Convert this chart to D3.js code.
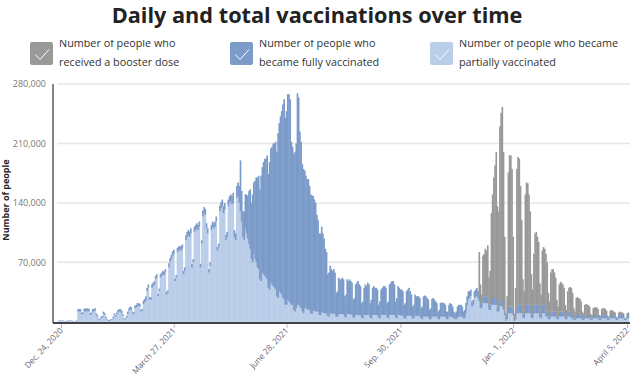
<!DOCTYPE html>
<html>
<head>
<meta charset="utf-8">
<script src="https://cdn.jsdelivr.net/npm/d3@7"></script>
<style>
  body { margin: 0; background: #fff; }
  svg { display: block; }
</style>
</head>
<body>
<svg id="chart" width="634" height="375"></svg>
<script>
// daily values in thousands, one row per week, first day Thu Dec. 17, 2020
const startDate = new Date(2020, 11, 17);

const partial = [
  0,0,0,0,1,1,1,  1,1,0.5,0.5,1,1,1,  1,1,0.5,0.5,1,1,12,
  12,12,9,9,12,13,12,  13,12,8,9,12,12,13,  8,6,3,2,4,5,9,
  8,4,2,1,1,2,2,  4,8,6,9,11,12,12,  10,7,3,3,5,9,13,
  15,14,10,9,16,17,18,  19,18,12,13,21,23,25,  36,40,26,26,40,42,44,
  50,52,30,36,52,54,56,  55,58,32,34,64,70,74,  78,80,48,52,82,84,84,
  84,86,56,60,96,100,102,  100,104,64,70,106,108,110,  108,112,64,92,124,128,126,
  110,104,58,66,108,112,110,  112,118,84,88,130,134,136,  128,132,96,100,136,140,142,
  138,140,100,96,146,148,140,  130,118,100,96,110,104,98,  92,86,74,70,80,74,70,
  64,62,50,48,58,56,54,  52,50,40,38,46,44,42,  40,38,30,28,36,34,32,
  28,26,20,20,26,24,22,  20,20,14,12,16,20,20,  18,16,12,10,16,16,15,
  14,14,10,9,13,13,12,  12,12,8,8,11,11,10,  10,10,7,6,10,10,9,
  10,9,6,6,9,9,9,  9,9,6,5,9,9,9,  9,8,5,5,8,8,8,
  8,8,5,4,8,8,8,  8,8,5,4,8,8,8,  8,8,5,4,8,8,8,
  8,8,5,4,8,8,8,  8,8,5,4,8,8,8,  7,7,4,4,7,7,7,
  7,7,4,4,7,7,7,  7,6,4,3,6,6,6,  6,6,3,3,6,6,6,
  6,6,3,3,6,6,6,  6,6,3,3,6,6,6,  5,4,3,3,5,6,6,
  6,6,4,4,10,20,26,  28,30,18,20,28,30,30,  28,24,16,16,22,22,22,
  22,22,14,14,20,20,20,  20,20,12,12,18,18,18,  14,8,1,3,10,10,10,
  10,8,1,3,10,10,10,  10,10,5,4,10,10,10,  10,10,5,4,10,10,10,
  10,10,5,4,10,10,10,  6,6,3,3,6,6,6,  6,6,3,3,6,6,6,
  6,6,3,3,6,6,6,  4,4,2,2,4,4,4,  4,4,2,2,4,4,4,
  4,4,2,2,4,4,4,  4,4,2,2,4,4,4,  4,4,2,2,4,4,4,
  4,4,2,2,4,4,4,  4,4,2,2,4,4
];

const fully = [
  0,0,0,0,0.5,0.5,0.5,  0.5,0.5,0.3,0.3,0.5,0.5,0.5,  0.5,0.5,0.3,0.3,0.5,0.5,3,
  3,3,2,2,3,3,3,  3,3,2,2,3,3,3,  2,2,1,1,2,2,3,
  2,2,1,1,1,1,1,  2,2,2,2,3,3,3,  3,2,1,1,2,3,3,
  3,3,2,2,3,3,4,  3,3,2,2,4,4,5,  4,4,3,3,4,4,4,
  4,4,3,3,4,4,4,  4,4,3,3,5,5,5,  5,5,3,3,5,5,5,
  5,5,4,4,6,6,6,  6,6,4,4,6,6,6,  6,6,4,4,7,7,7,
  6,6,4,4,6,6,6,  6,6,4,4,7,7,8,  8,8,6,6,8,8,8,
  10,12,8,8,14,16,20,  60,36,30,34,40,46,50,  62,70,66,80,84,92,100,
  106,110,106,124,124,132,138,  140,146,134,150,158,162,168,  170,174,170,194,198,208,216,
  228,236,220,228,242,244,240,  192,186,184,188,194,249,244,  206,196,174,170,162,156,153,
  154,146,140,140,135,131,128,  114,108,96,96,101,93,88,  76,72,49,52,56,52,51,
  52,49,28,30,43,41,41,  43,41,24,27,41,39,41,  39,38,21,23,36,38,40,
  36,34,17,20,32,36,34,  38,36,17,22,32,34,32,  32,30,15,20,30,32,34,
  34,32,17,20,36,38,40,  40,36,19,24,34,32,30,  31,29,16,18,29,31,33,
  29,25,14,16,25,23,23,  23,22,12,15,24,25,24,  22,20,11,13,21,22,20,
  18,16,9,11,16,17,16,  16,14,9,9,14,16,15,  13,8,7,9,13,14,14,
  14,12,8,10,12,10,10,  8,8,6,6,8,8,10,  8,8,6,6,8,8,8,
  8,8,6,6,8,8,8,  8,8,6,6,8,8,8,  8,5,1,3,8,8,8,
  8,6,1,3,9,10,10,  10,10,5,4,10,10,10,  10,10,5,4,10,10,10,
  10,10,5,4,10,10,10,  6,6,3,3,6,6,6,  6,6,3,3,6,6,6,
  6,6,3,3,6,6,6,  4,4,2,2,4,4,4,  4,4,2,2,4,4,4,
  4,4,2,2,4,4,4,  4,4,2,2,4,4,4,  4,4,2,2,4,4,4,
  4,4,2,2,4,4,4,  4,4,2,2,4,4
];

// boosters start in the week of Dec. 2, 2021 (day 350)
const boosterFrom = 350;
const booster = [
  0,50,22,10,48,50,56,  54,60,32,40,100,122,142,  156,172,118,112,204,220,227,
  178,87,8,24,158,178,178,  162,86,8,34,161,174,172,  140,100,40,28,130,144,143,
  130,110,46,30,60,84,86,  80,74,35,24,64,68,66,  68,58,28,18,46,50,50,
  46,40,20,12,32,35,34,  32,28,14,8,24,28,29,  32,26,12,8,20,21,20,
  19,16,8,6,12,13,12,  12,10,5,4,8,9,9,  9,7,4,3,7,8,8,
  7,5,3,2,5,6,5,  4,3,2,1,3,4,3,  3,2,1,0,2,3
];

const yTicks = [70000, 140000, 210000, 280000];
const xTickDates = [new Date(2020, 11, 24), new Date(2021, 2, 27), new Date(2021, 5, 28),
                    new Date(2021, 8, 30), new Date(2022, 0, 1), new Date(2022, 3, 5)];
const xTickLabels = ["Dec. 24, 2020", "March 27, 2021", "June 28, 2021",
                     "Sep. 30, 2021", "Jan. 1, 2022", "April 5, 2022"];

const legendItems = [
  { key: "booster", color: "#999999", lines: ["Number of people who", "received a booster dose"] },
  { key: "fully",   color: "#7b9bc9", lines: ["Number of people who", "became fully vaccinated"] },
  { key: "partial", color: "#bacde9", lines: ["Number of people who became", "partially vaccinated"] }
];
const colors = { partial: "#bacde9", fully: "#7b9bc9", booster: "#999999" };

const table = partial.map((p, i) => ({
  date: d3.timeDay.offset(startDate, i),
  partial: p * 1000,
  fully: fully[i] * 1000,
  booster: (i >= boosterFrom ? booster[i - boosterFrom] : 0) * 1000
}));

const svg = d3.select("#chart");

const x = d3.scaleTime()
  .domain([startDate, new Date(2022, 3, 7)])
  .range([53, 630]);
const y = d3.scaleLinear().domain([0, 280000]).range([321.8, 84]);
const step = x(d3.timeDay.offset(startDate, 1)) - x(startDate);

// title
const title = svg.append("text")
  .attr("x", 317).attr("y", 23)
  .attr("text-anchor", "middle")
  .style("font-family", "'Open Sans', sans-serif")
  .style("font-weight", 700)
  .style("font-size", "22px")
  .style("fill", "#222")
  .text("Daily and total vaccinations over time");
const tw = title.node().getComputedTextLength();
title.style("font-size", (22 * 411 / tw).toFixed(2) + "px");

// legend (first line is cut at the top, like the original)
svg.append("defs").append("clipPath").attr("id", "legclip")
  .append("rect").attr("x", 0).attr("y", 40).attr("width", 634).attr("height", 40);

const leg = svg.append("g").attr("clip-path", "url(#legclip)");
legendItems.forEach((item, i) => {
  const g = leg.append("g").attr("transform", `translate(${30 + i * 200},42)`);
  g.append("rect").attr("width", 23).attr("height", 23).attr("rx", 2).attr("fill", item.color);
  g.append("path").attr("d", "M5,12.5 L10,17.5 L19,7.5")
    .attr("fill", "none").attr("stroke", "#fff").attr("stroke-width", 1);
  g.selectAll("text.leg").data(item.lines).join("text")
    .attr("class", "leg")
    .attr("x", 29).attr("y", (d, j) => 5 + j * 18.5)
    .style("font-family", "'Open Sans', sans-serif")
    .style("font-size", "10.8px")
    .style("fill", "#333")
    .text(d => d);
});

// gridlines
svg.append("g").selectAll("line").data(yTicks).join("line")
  .attr("x1", 57).attr("x2", 630)
  .attr("y1", d => y(d)).attr("y2", d => y(d))
  .attr("stroke", "#e6e6e6").attr("stroke-width", 1.5);

// bars
const stack = d3.stack().keys(["partial", "fully", "booster"]);
const layers = stack(table);
svg.append("g").selectAll("g").data(layers).join("g")
  .attr("fill", d => colors[d.key])
  .selectAll("rect").data(d => d).join("rect")
  .attr("x", d => x(d.data.date))
  .attr("width", step + 0.45)
  .attr("y", d => y(d[1]))
  .attr("height", d => Math.max(0, y(d[0]) - y(d[1])));

// y axis
svg.append("line").attr("x1", 53).attr("x2", 53).attr("y1", 84).attr("y2", 323)
  .attr("stroke", "#666").attr("stroke-width", 1.6);
svg.append("g").selectAll("text").data(yTicks).join("text")
  .attr("x", 46).attr("y", d => y(d)).attr("dy", "0.35em")
  .attr("text-anchor", "end")
  .style("font-family", "'Open Sans', sans-serif")
  .style("font-size", "9px")
  .style("fill", "#777")
  .text(d => d3.format(",")(d));
svg.append("text")
  .attr("transform", "translate(9,200) rotate(-90)")
  .attr("text-anchor", "middle")
  .style("font-family", "'Open Sans', sans-serif")
  .style("font-weight", 700)
  .style("font-size", "9px")
  .style("fill", "#222")
  .text("Number of people");

// x axis
svg.append("line").attr("x1", 53).attr("x2", 630).attr("y1", 323).attr("y2", 323)
  .attr("stroke", "#444").attr("stroke-width", 2);
const xt = svg.append("g").selectAll("g").data(xTickDates).join("g")
  .attr("transform", d => `translate(${x(d)},0)`);
xt.append("line").attr("y1", 324).attr("y2", 328).attr("stroke", "#bbb");
xt.append("text")
  .attr("transform", "translate(2,331) rotate(-47)")
  .attr("text-anchor", "end")
  .style("font-family", "'Open Sans', sans-serif")
  .style("font-size", "8.3px")
  .style("fill", "#667")
  .text((d, i) => xTickLabels[i]);
</script>
</body>
</html>
